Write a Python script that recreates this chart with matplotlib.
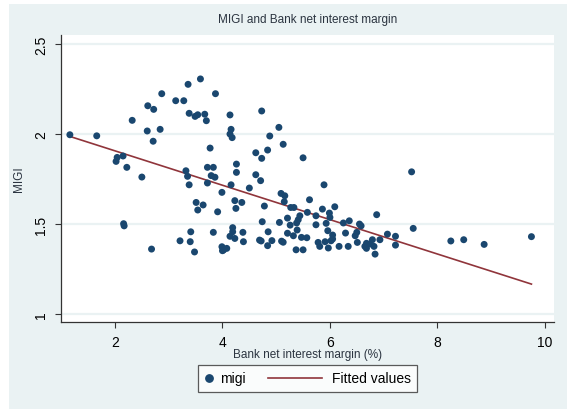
import numpy as np
import matplotlib
matplotlib.use("Agg")
import matplotlib.pyplot as plt
from matplotlib.lines import Line2D
from matplotlib.patches import Rectangle
from matplotlib.legend_handler import HandlerBase

plt.rcParams['font.family'] = ['Liberation Sans', 'DejaVu Sans']

# Bank net interest margin (%) and MIGI
nim = [
    1.16, 1.66, 2.32, 2.61, 2.72, 2.87, 3.13, 3.28, 3.36, 3.59, 3.87, 3.38, 3.49, 3.54,
    3.67, 3.70, 4.14, 4.16, 4.14, 4.18, 2.60, 2.84, 2.71, 3.77, 4.73, 5.05, 4.88, 5.13,
    4.84, 4.62, 4.73, 5.50,
    2.04, 2.02, 2.15, 2.22, 2.50, 3.32, 3.35, 3.38, 3.72, 3.83, 3.79, 3.86, 3.72, 4.26,
    4.26, 4.16, 3.99, 4.62, 4.71, 4.50, 5.09, 5.16, 5.15, 5.89, 7.52, 5.62,
    3.51, 3.64, 3.54, 3.91, 4.23, 4.36, 4.25, 4.78, 4.74, 5.06, 5.21, 5.26, 5.27, 5.33,
    5.41, 5.38, 5.39, 5.58, 5.44, 5.86, 5.99, 6.09, 5.74, 6.00, 5.93, 5.74, 6.36, 6.25,
    6.55, 6.58, 6.87, 7.55, 2.16, 2.17,
    2.68, 3.21, 3.40, 3.41, 3.48, 3.83, 3.99, 4.02, 4.08, 4.00, 4.19, 4.19, 4.14, 4.23,
    4.38, 4.39, 4.69, 4.72, 4.84, 4.92, 4.85, 5.10, 5.13, 5.21, 5.32, 5.37, 5.50, 5.47,
    5.57, 5.96, 6.05, 6.29, 6.47, 6.50, 6.79, 6.93, 7.07, 7.22, 7.22, 6.68, 6.74, 6.65,
    6.68, 6.82, 6.84, 6.51, 6.34, 6.17, 5.97, 6.02, 6.05, 5.78, 5.81, 5.91,
    8.25, 8.49, 8.87, 9.75,
]
migi = [
    1.996, 1.990, 2.076, 2.157, 2.137, 2.224, 2.185, 2.185, 2.276, 2.306, 2.224, 2.115, 2.098, 2.107,
    2.110, 2.074, 2.106, 2.026, 2.000, 1.980, 2.017, 2.026, 1.960, 1.922, 2.128, 2.037, 1.989, 1.943,
    1.911, 1.896, 1.865, 1.868,
    1.870, 1.848, 1.878, 1.815, 1.761, 1.796, 1.765, 1.718, 1.815, 1.815, 1.769, 1.760, 1.728, 1.833,
    1.787, 1.718, 1.676, 1.774, 1.741, 1.700, 1.670, 1.657, 1.624, 1.718, 1.790, 1.635,
    1.620, 1.606, 1.578, 1.568, 1.630, 1.620, 1.587, 1.600, 1.513, 1.509, 1.533, 1.494, 1.592, 1.592,
    1.524, 1.506, 1.467, 1.565, 1.546, 1.583, 1.561, 1.596, 1.546, 1.537, 1.504, 1.496, 1.518, 1.506,
    1.500, 1.490, 1.552, 1.476, 1.502, 1.490,
    1.361, 1.407, 1.402, 1.457, 1.345, 1.454, 1.374, 1.356, 1.365, 1.352, 1.480, 1.457, 1.432, 1.420,
    1.454, 1.402, 1.411, 1.406, 1.380, 1.408, 1.457, 1.405, 1.399, 1.449, 1.435, 1.357, 1.357, 1.426,
    1.424, 1.463, 1.439, 1.450, 1.435, 1.454, 1.413, 1.413, 1.444, 1.432, 1.383, 1.393, 1.389, 1.376,
    1.365, 1.376, 1.333, 1.398, 1.376, 1.376, 1.367, 1.407, 1.417, 1.398, 1.376, 1.402,
    1.406, 1.413, 1.387, 1.430,
]

x_ticks = [2, 4, 6, 8, 10]
y_ticks = [1, 1.5, 2, 2.5]
y_tick_labels = ["1", "1.5", "2", "2.5"]

BG = "#eaf2f3"
NAVY = "#1a476f"
MAROON = "#90353b"
TXT = "#2b3440"


class WideLineHandler(HandlerBase):
    # legend key for the fitted line, longer than the marker key
    def create_artists(self, legend, orig_handle, xdescent, ydescent, width, height, fontsize, trans):
        y = height / 2 - ydescent
        line = Line2D([-3.4 * fontsize, 0.45 * fontsize], [y, y],
                      color=orig_handle.get_color(), lw=orig_handle.get_linewidth())
        line.set_transform(trans)
        return [line]


x = np.array(nim)
y = np.array(migi)
slope, intercept = np.polyfit(x, y, 1)
xs = np.array([x.min(), x.max()])

fig = plt.figure(figsize=(5.67, 4.10), dpi=100, facecolor="white")
fig.patches.append(Rectangle((9 / 567, 0), 1, 1 - 5 / 410, transform=fig.transFigure,
                             facecolor=BG, edgecolor="none", zorder=-10))
ax = fig.add_axes([61 / 567, 1 - 323 / 410, 493 / 567, 287 / 410])
ax.set_facecolor("white")

for t in y_ticks:
    ax.axhline(t, color=BG, lw=1.6, zorder=0)

ax.scatter(x, y, s=25, color=NAVY, edgecolors="none", zorder=3, label="migi")
fit_line, = ax.plot(xs, intercept + slope * xs, color=MAROON, lw=1.2, zorder=2, label="Fitted values")

ax.set_xlim(0.995, 10.17)
ax.set_ylim(0.956, 2.55)
ax.set_xticks(x_ticks)
ax.set_yticks(y_ticks)
ax.set_yticklabels(y_tick_labels, rotation=90, va="center")
ax.tick_params(axis="both", direction="out", length=4.5, width=0.8, color="#333333",
               labelsize=10, labelcolor="black", pad=5)

for side in ["top", "right"]:
    ax.spines[side].set_visible(False)
for side in ["left", "bottom"]:
    ax.spines[side].set_color("#333333")
    ax.spines[side].set_linewidth(0.9)

ax.set_xlabel("Bank net interest margin (%)", fontsize=8.5, color=TXT, labelpad=-1)
ax.set_ylabel("MIGI", fontsize=8.5, color=TXT, labelpad=6)
ax.set_title("MIGI and Bank net interest margin", fontsize=8.5, color=TXT, pad=9)

migi_key = Line2D([], [], marker="o", linestyle="none", markersize=5.3, color=NAVY)
leg = fig.legend([migi_key, fit_line], ["migi", "Fitted values"], ncol=2,
                 loc="center", bbox_to_anchor=(307.5 / 567, 1 - 379.5 / 410),
                 fontsize=10, frameon=True, fancybox=False, handlelength=0.7,
                 handletextpad=0.5, columnspacing=5.0, borderpad=0.45,
                 handler_map={fit_line: WideLineHandler()})
leg.get_frame().set_edgecolor("#333333")
leg.get_frame().set_linewidth(0.9)
leg.get_frame().set_facecolor("white")

plt.savefig("out.png", dpi=100, facecolor=fig.get_facecolor())
plt.close(fig)
